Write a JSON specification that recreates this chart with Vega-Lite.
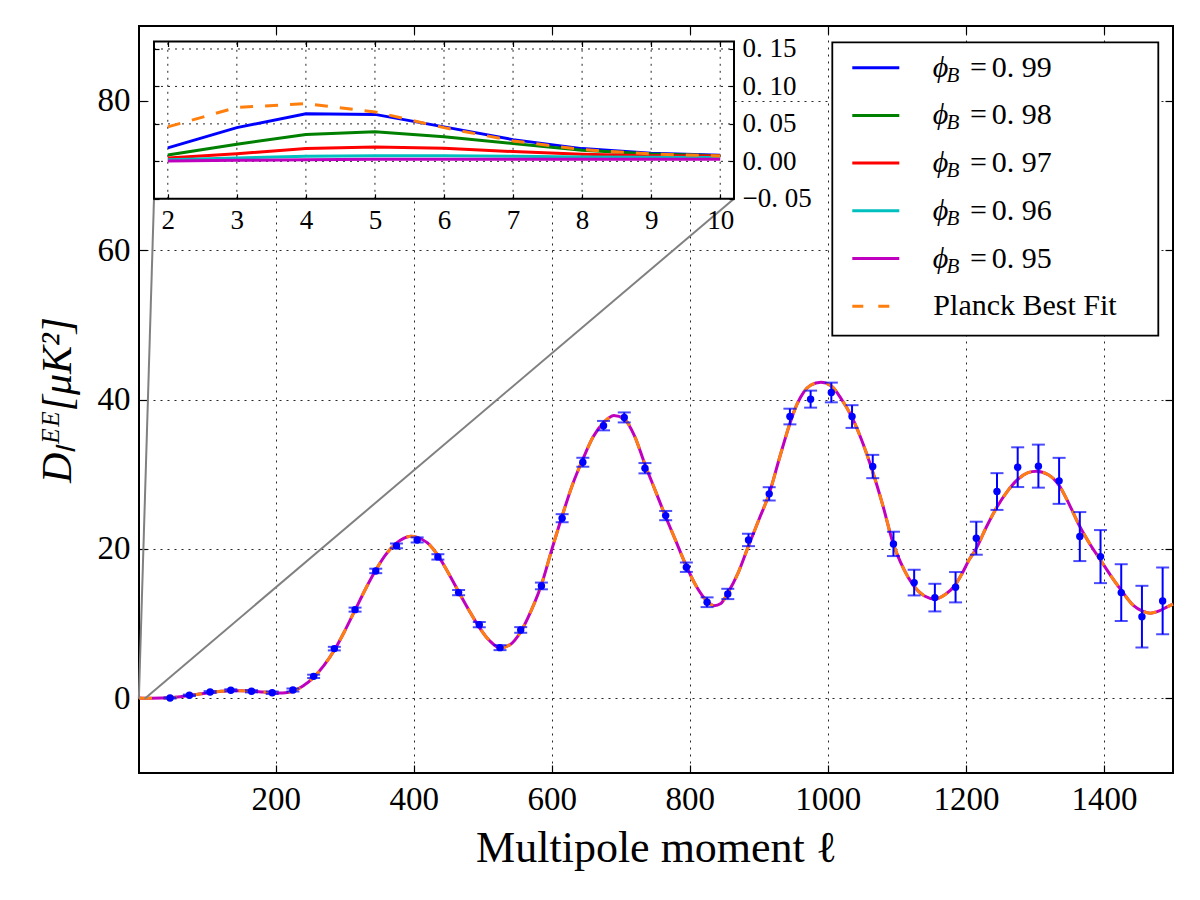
{
  "$schema": "https://vega.github.io/schema/vega-lite/v6.json",
  "width": 1034,
  "height": 747,
  "autosize": {"type": "none"},
  "padding": {"left": 139, "top": 26, "right": 27, "bottom": 127},
  "background": "white",
  "config": {
    "view": {"stroke": "black", "strokeWidth": 2},
    "font": "Liberation Serif",
    "axis": {
      "labelFont": "Liberation Serif",
      "titleFont": "Liberation Serif",
      "labelColor": "black",
      "titleColor": "black",
      "titleFontWeight": "normal",
      "tickColor": "black",
      "tickWidth": 1.2,
      "domain": false,
      "labelFlush": false,
      "labelOverlap": false,
      "gridColor": "black",
      "gridDash": [2, 5],
      "gridWidth": 1,
      "gridOpacity": 0.85
    },
    "text": {"font": "Liberation Serif", "color": "black"}
  },
  "datasets": {
    "theory": [
      {"l": 2, "D": 0.046}, {"l": 10, "D": 0.007}, {"l": 20, "D": 0.01}, {"l": 35, "D": 0.03},
      {"l": 48, "D": 0.07}, {"l": 62, "D": 0.2}, {"l": 77, "D": 0.4}, {"l": 92, "D": 0.6},
      {"l": 106, "D": 0.78}, {"l": 121, "D": 0.94}, {"l": 136, "D": 1.03}, {"l": 151, "D": 1.02},
      {"l": 166, "D": 0.95}, {"l": 181, "D": 0.85}, {"l": 196, "D": 0.75}, {"l": 210, "D": 0.72},
      {"l": 225, "D": 0.95}, {"l": 239, "D": 1.6}, {"l": 255, "D": 2.8}, {"l": 270, "D": 4.4},
      {"l": 286, "D": 6.6}, {"l": 300, "D": 9.0}, {"l": 315, "D": 11.8}, {"l": 330, "D": 14.6},
      {"l": 344, "D": 17.0}, {"l": 360, "D": 19.3}, {"l": 374, "D": 20.7}, {"l": 386, "D": 21.45},
      {"l": 396, "D": 21.7}, {"l": 405, "D": 21.55}, {"l": 420, "D": 20.8}, {"l": 436, "D": 19.0},
      {"l": 450, "D": 16.8}, {"l": 466, "D": 14.1}, {"l": 480, "D": 11.8}, {"l": 495, "D": 9.5},
      {"l": 510, "D": 7.7}, {"l": 525, "D": 6.75}, {"l": 540, "D": 7.2}, {"l": 555, "D": 8.9},
      {"l": 570, "D": 11.7}, {"l": 585, "D": 15.2}, {"l": 600, "D": 19.9}, {"l": 615, "D": 24.4},
      {"l": 630, "D": 28.6}, {"l": 645, "D": 32.0}, {"l": 660, "D": 35.0}, {"l": 675, "D": 36.9},
      {"l": 690, "D": 37.85}, {"l": 705, "D": 37.4}, {"l": 720, "D": 35.1}, {"l": 735, "D": 31.3},
      {"l": 750, "D": 27.8}, {"l": 765, "D": 24.3}, {"l": 780, "D": 21.0}, {"l": 794, "D": 17.9},
      {"l": 810, "D": 14.9}, {"l": 824, "D": 13.1}, {"l": 835, "D": 12.4}, {"l": 845, "D": 12.7},
      {"l": 855, "D": 14.1}, {"l": 870, "D": 16.8}, {"l": 885, "D": 20.4}, {"l": 900, "D": 23.9},
      {"l": 915, "D": 27.4}, {"l": 930, "D": 32.2}, {"l": 945, "D": 36.8}, {"l": 955, "D": 39.3},
      {"l": 965, "D": 41.0}, {"l": 975, "D": 41.9}, {"l": 990, "D": 42.3}, {"l": 1005, "D": 41.8},
      {"l": 1020, "D": 40.0}, {"l": 1035, "D": 37.6}, {"l": 1050, "D": 34.3}, {"l": 1064, "D": 30.6},
      {"l": 1080, "D": 25.7}, {"l": 1094, "D": 20.9}, {"l": 1110, "D": 17.3}, {"l": 1124, "D": 15.1},
      {"l": 1140, "D": 13.7}, {"l": 1155, "D": 13.3}, {"l": 1170, "D": 13.9}, {"l": 1184, "D": 15.1},
      {"l": 1195, "D": 16.8}, {"l": 1205, "D": 18.6}, {"l": 1214, "D": 19.9}, {"l": 1230, "D": 23.0},
      {"l": 1245, "D": 25.6}, {"l": 1260, "D": 27.7}, {"l": 1275, "D": 29.3}, {"l": 1290, "D": 30.2},
      {"l": 1302, "D": 30.4}, {"l": 1320, "D": 29.9}, {"l": 1335, "D": 28.5}, {"l": 1350, "D": 25.9},
      {"l": 1365, "D": 23.0}, {"l": 1380, "D": 20.6}, {"l": 1395, "D": 18.5}, {"l": 1410, "D": 16.4},
      {"l": 1424, "D": 14.6}, {"l": 1443, "D": 12.4}, {"l": 1455, "D": 11.7}, {"l": 1467, "D": 11.4},
      {"l": 1480, "D": 11.7}, {"l": 1491, "D": 12.2}, {"l": 1500, "D": 12.6}
    ],
    "ee": [
      {"l": 47, "D": 0.05, "err": 0.08}, {"l": 75, "D": 0.4, "err": 0.1},
      {"l": 105, "D": 0.84, "err": 0.12}, {"l": 135, "D": 1.07, "err": 0.14},
      {"l": 165, "D": 0.94, "err": 0.15}, {"l": 195, "D": 0.75, "err": 0.17},
      {"l": 225, "D": 1.11, "err": 0.2}, {"l": 255, "D": 2.94, "err": 0.22},
      {"l": 285, "D": 6.65, "err": 0.24}, {"l": 315, "D": 11.87, "err": 0.27},
      {"l": 345, "D": 17.05, "err": 0.3}, {"l": 375, "D": 20.4, "err": 0.32},
      {"l": 405, "D": 21.2, "err": 0.34}, {"l": 435, "D": 18.93, "err": 0.36},
      {"l": 465, "D": 14.15, "err": 0.35}, {"l": 495, "D": 9.86, "err": 0.35},
      {"l": 525, "D": 6.78, "err": 0.33}, {"l": 555, "D": 9.15, "err": 0.38},
      {"l": 585, "D": 15.04, "err": 0.45}, {"l": 615, "D": 24.11, "err": 0.54},
      {"l": 645, "D": 31.6, "err": 0.6}, {"l": 675, "D": 36.5, "err": 0.63},
      {"l": 705, "D": 37.6, "err": 0.67}, {"l": 735, "D": 30.8, "err": 0.69},
      {"l": 765, "D": 24.46, "err": 0.62}, {"l": 795, "D": 17.55, "err": 0.63},
      {"l": 825, "D": 12.86, "err": 0.65}, {"l": 855, "D": 13.97, "err": 0.69},
      {"l": 885, "D": 21.2, "err": 0.83}, {"l": 915, "D": 27.37, "err": 0.89},
      {"l": 945, "D": 37.72, "err": 1.05}, {"l": 975, "D": 40.05, "err": 1.14},
      {"l": 1005, "D": 40.94, "err": 1.32}, {"l": 1035, "D": 37.72, "err": 1.52},
      {"l": 1065, "D": 31.03, "err": 1.56}, {"l": 1095, "D": 20.67, "err": 1.63},
      {"l": 1125, "D": 15.49, "err": 1.72}, {"l": 1155, "D": 13.48, "err": 1.85},
      {"l": 1185, "D": 14.87, "err": 2.03}, {"l": 1215, "D": 21.43, "err": 2.21},
      {"l": 1245, "D": 27.68, "err": 2.46}, {"l": 1275, "D": 30.94, "err": 2.66},
      {"l": 1305, "D": 31.08, "err": 2.88}, {"l": 1335, "D": 29.11, "err": 3.08},
      {"l": 1365, "D": 21.65, "err": 3.28}, {"l": 1395, "D": 18.97, "err": 3.55},
      {"l": 1425, "D": 14.15, "err": 3.8}, {"l": 1455, "D": 10.93, "err": 4.13},
      {"l": 1485, "D": 13.03, "err": 4.47}
    ],
    "lowl": [
      {"series": "0.99", "l": 2, "v": 0.018}, {"series": "0.99", "l": 3, "v": 0.045}, {"series": "0.99", "l": 4, "v": 0.0636},
      {"series": "0.99", "l": 5, "v": 0.0627}, {"series": "0.99", "l": 6, "v": 0.046}, {"series": "0.99", "l": 7, "v": 0.029},
      {"series": "0.99", "l": 8, "v": 0.017}, {"series": "0.99", "l": 9, "v": 0.0107}, {"series": "0.99", "l": 10, "v": 0.008},
      {"series": "0.98", "l": 2, "v": 0.0085}, {"series": "0.98", "l": 3, "v": 0.0228}, {"series": "0.98", "l": 4, "v": 0.0358},
      {"series": "0.98", "l": 5, "v": 0.0394}, {"series": "0.98", "l": 6, "v": 0.0327}, {"series": "0.98", "l": 7, "v": 0.0237},
      {"series": "0.98", "l": 8, "v": 0.0148}, {"series": "0.98", "l": 9, "v": 0.0098}, {"series": "0.98", "l": 10, "v": 0.0076},
      {"series": "0.97", "l": 2, "v": 0.0045}, {"series": "0.97", "l": 3, "v": 0.0103}, {"series": "0.97", "l": 4, "v": 0.017},
      {"series": "0.97", "l": 5, "v": 0.0192}, {"series": "0.97", "l": 6, "v": 0.0175}, {"series": "0.97", "l": 7, "v": 0.013},
      {"series": "0.97", "l": 8, "v": 0.0094}, {"series": "0.97", "l": 9, "v": 0.0076}, {"series": "0.97", "l": 10, "v": 0.0072},
      {"series": "0.96", "l": 2, "v": 0.0022}, {"series": "0.96", "l": 3, "v": 0.0045}, {"series": "0.96", "l": 4, "v": 0.0067},
      {"series": "0.96", "l": 5, "v": 0.0076}, {"series": "0.96", "l": 6, "v": 0.0076}, {"series": "0.96", "l": 7, "v": 0.0067},
      {"series": "0.96", "l": 8, "v": 0.0058}, {"series": "0.96", "l": 9, "v": 0.0054}, {"series": "0.96", "l": 10, "v": 0.005},
      {"series": "0.95", "l": 2, "v": 0.0004}, {"series": "0.95", "l": 3, "v": 0.0013}, {"series": "0.95", "l": 4, "v": 0.0022},
      {"series": "0.95", "l": 5, "v": 0.0027}, {"series": "0.95", "l": 6, "v": 0.0027}, {"series": "0.95", "l": 7, "v": 0.0027},
      {"series": "0.95", "l": 8, "v": 0.0027}, {"series": "0.95", "l": 9, "v": 0.0027}, {"series": "0.95", "l": 10, "v": 0.0027},
      {"series": "Planck", "l": 2, "v": 0.046}, {"series": "Planck", "l": 3, "v": 0.072}, {"series": "Planck", "l": 4, "v": 0.077},
      {"series": "Planck", "l": 5, "v": 0.066}, {"series": "Planck", "l": 6, "v": 0.045}, {"series": "Planck", "l": 7, "v": 0.0273},
      {"series": "Planck", "l": 8, "v": 0.0157}, {"series": "Planck", "l": 9, "v": 0.0098}, {"series": "Planck", "l": 10, "v": 0.0072}
    ],
    "legend": [
      {"order": 0, "series": "0.99", "label": "0. 99"},
      {"order": 1, "series": "0.98", "label": "0. 98"},
      {"order": 2, "series": "0.97", "label": "0. 97"},
      {"order": 3, "series": "0.96", "label": "0. 96"},
      {"order": 4, "series": "0.95", "label": "0. 95"},
      {"order": 5, "series": "Planck", "label": "Planck Best Fit"}
    ],
    "connectors": [
      {"corner": "lower left", "l": 1.8, "D": -0.05},
      {"corner": "lower left", "l": 23.73, "D": 66.87},
      {"corner": "lower right", "l": 10.2, "D": -0.05},
      {"corner": "lower right", "l": 864.0, "D": 66.87}
    ]
  },
  "resolve": {"scale": {"x": "independent", "y": "independent"}},
  "layer": [
    {
      "layer": [
        {
          "data": {"name": "theory"},
          "mark": {"type": "line", "color": "#bf00bf", "strokeWidth": 3, "interpolate": "monotone"},
          "encoding": {
            "x": {
              "field": "l", "type": "quantitative", "title": "Multipole moment ℓ",
              "scale": {"domain": [2, 1500], "nice": false, "zero": false},
              "axis": {
                "orient": "bottom", "values": [200, 400, 600, 800, 1000, 1200, 1400], "format": "d",
                "grid": true, "tickSize": -8, "labelFontSize": 33, "labelPadding": 18,
                "titleFontSize": 44, "titlePadding": 10
              }
            },
            "y": {
              "field": "D", "type": "quantitative", "title": "Dₗᴱᴱ[μK²]",
              "scale": {"domain": [-10, 90], "nice": false, "zero": false},
              "axis": {
                "orient": "left", "values": [0, 20, 40, 60, 80],
                "grid": true, "tickSize": -8, "labelFontSize": 33, "labelPadding": 17,
                "titleFontSize": 42, "titleFontStyle": "italic", "titlePadding": 18
              }
            }
          }
        },
        {
          "data": {"name": "theory"},
          "mark": {"type": "line", "color": "#ff7f0e", "strokeWidth": 3, "strokeDash": [13, 12], "interpolate": "monotone"},
          "encoding": {
            "x": {"field": "l", "type": "quantitative", "title": "Multipole moment ℓ"},
            "y": {"field": "D", "type": "quantitative", "title": "Dₗᴱᴱ[μK²]"}
          }
        },
        {
          "data": {"name": "connectors"},
          "mark": {"type": "line", "color": "#808080", "strokeWidth": 2},
          "encoding": {
            "x": {"field": "l", "type": "quantitative", "title": "Multipole moment ℓ"},
            "y": {"field": "D", "type": "quantitative", "title": "Dₗᴱᴱ[μK²]"},
            "detail": {"field": "corner", "type": "nominal"}
          }
        },
        {
          "data": {"name": "ee"},
          "mark": {"type": "errorbar", "color": "#0000ff", "thickness": 2, "ticks": {"size": 13, "thickness": 2}},
          "encoding": {
            "x": {"field": "l", "type": "quantitative", "title": "Multipole moment ℓ"},
            "y": {"field": "D", "type": "quantitative", "title": "Dₗᴱᴱ[μK²]"},
            "yError": {"field": "err"}
          }
        },
        {
          "data": {"name": "ee"},
          "mark": {"type": "circle", "color": "#0000ff", "size": 55, "opacity": 1},
          "encoding": {
            "x": {"field": "l", "type": "quantitative", "title": "Multipole moment ℓ"},
            "y": {"field": "D", "type": "quantitative", "title": "Dₗᴱᴱ[μK²]"}
          }
        }
      ]
    },
    {
      "data": {"name": "ee"},
      "mark": {"type": "point", "opacity": 0},
      "encoding": {
        "x": {
          "field": "l", "type": "quantitative",
          "scale": {"domain": [2, 1500], "nice": false, "zero": false},
          "axis": {"orient": "top", "values": [200, 400, 600, 800, 1000, 1200, 1400], "labels": false, "grid": false, "tickSize": -8, "title": null}
        },
        "y": {
          "field": "D", "type": "quantitative",
          "scale": {"domain": [-10, 90], "nice": false, "zero": false},
          "axis": {"orient": "right", "values": [0, 20, 40, 60, 80], "labels": false, "grid": false, "tickSize": -8, "title": null}
        }
      }
    },
    {
      "layer": [
        {
          "data": {"values": [{}]},
          "mark": {"type": "rect", "fill": "white", "strokeWidth": 0},
          "encoding": {
            "x": {
              "datum": 1.8, "type": "quantitative",
              "scale": {"domain": [1.8, 10.2], "range": [15, 595], "nice": false, "zero": false},
              "axis": {
                "orient": "bottom", "offset": -574.2, "values": [2, 3, 4, 5, 6, 7, 8, 9, 10], "format": "d",
                "grid": false, "tickSize": -5, "labelFontSize": 27, "labelPadding": 14, "title": null, "zindex": 1
              }
            },
            "x2": {"datum": 10.2},
            "y": {
              "datum": -0.05, "type": "quantitative",
              "scale": {"domain": [-0.05, 0.16], "range": [172.8, 15.5], "nice": false, "zero": false},
              "axis": {
                "orient": "right", "offset": -439, "values": [-0.05, 0, 0.05, 0.1, 0.15],
                "labelExpr": "replace(format(datum.value, '.2f'), '.', '. ')",
                "grid": false, "tickSize": -5, "labelFontSize": 27, "labelPadding": 13, "title": null, "zindex": 1
              }
            },
            "y2": {"datum": 0.16}
          }
        },
        {
          "data": {"name": "lowl"},
          "transform": [{"filter": "datum.series === 'Planck'"}],
          "mark": {"type": "rule", "color": "black", "strokeWidth": 1, "strokeDash": [2, 5], "opacity": 0.85},
          "encoding": {
            "x": {"field": "l", "type": "quantitative"},
            "y": {"datum": -0.05, "type": "quantitative"},
            "y2": {"datum": 0.16}
          }
        },
        {
          "data": {"values": [{}]},
          "mark": {"type": "rule", "color": "black", "strokeWidth": 1, "strokeDash": [2, 5], "opacity": 0.85},
          "encoding": {"x": {"datum": 1.8, "type": "quantitative"}, "x2": {"datum": 10.2}, "y": {"datum": 0, "type": "quantitative"}}
        },
        {
          "data": {"values": [{}]},
          "mark": {"type": "rule", "color": "black", "strokeWidth": 1, "strokeDash": [2, 5], "opacity": 0.85},
          "encoding": {"x": {"datum": 1.8, "type": "quantitative"}, "x2": {"datum": 10.2}, "y": {"datum": 0.05, "type": "quantitative"}}
        },
        {
          "data": {"values": [{}]},
          "mark": {"type": "rule", "color": "black", "strokeWidth": 1, "strokeDash": [2, 5], "opacity": 0.85},
          "encoding": {"x": {"datum": 1.8, "type": "quantitative"}, "x2": {"datum": 10.2}, "y": {"datum": 0.1, "type": "quantitative"}}
        },
        {
          "data": {"values": [{}]},
          "mark": {"type": "rule", "color": "black", "strokeWidth": 1, "strokeDash": [2, 5], "opacity": 0.85},
          "encoding": {"x": {"datum": 1.8, "type": "quantitative"}, "x2": {"datum": 10.2}, "y": {"datum": 0.15, "type": "quantitative"}}
        },
        {
          "data": {"name": "lowl"},
          "transform": [{"filter": "datum.series !== 'Planck'"}],
          "mark": {"type": "line", "strokeWidth": 3},
          "encoding": {
            "x": {"field": "l", "type": "quantitative"},
            "y": {"field": "v", "type": "quantitative"},
            "color": {
              "field": "series", "type": "nominal",
              "scale": {"domain": ["0.99", "0.98", "0.97", "0.96", "0.95", "Planck"], "range": ["#0000ff", "#008000", "#ff0000", "#00bfbf", "#bf00bf", "#ff7f0e"]},
              "legend": null
            }
          }
        },
        {
          "data": {"name": "lowl"},
          "transform": [{"filter": "datum.series === 'Planck'"}],
          "mark": {"type": "line", "strokeWidth": 3, "strokeDash": [13, 12]},
          "encoding": {
            "x": {"field": "l", "type": "quantitative"},
            "y": {"field": "v", "type": "quantitative"},
            "color": {"field": "series", "type": "nominal", "legend": null}
          }
        }
      ]
    },
    {
      "data": {"values": [{}]},
      "mark": {"type": "rect", "fill": null, "fillOpacity": 0, "stroke": "black", "strokeWidth": 2},
      "encoding": {
        "x": {
          "datum": 1.8, "type": "quantitative",
          "scale": {"domain": [1.8, 10.2], "range": [15, 595], "nice": false, "zero": false},
          "axis": {"orient": "top", "offset": -15.5, "values": [2, 3, 4, 5, 6, 7, 8, 9, 10], "labels": false, "grid": false, "tickSize": -5, "title": null, "zindex": 1}
        },
        "x2": {"datum": 10.2},
        "y": {
          "datum": -0.05, "type": "quantitative",
          "scale": {"domain": [-0.05, 0.16], "range": [172.8, 15.5], "nice": false, "zero": false},
          "axis": {"orient": "left", "offset": -15, "values": [-0.05, 0, 0.05, 0.1, 0.15], "labels": false, "grid": false, "tickSize": -5, "title": null, "zindex": 1}
        },
        "y2": {"datum": 0.16}
      }
    },
    {
      "layer": [
        {
          "data": {"values": [{}]},
          "mark": {"type": "rect", "fill": "white", "stroke": "black", "strokeWidth": 1.8},
          "encoding": {
            "x": {"datum": 0, "type": "quantitative", "scale": {"domain": [0, 1], "range": [693.3, 1019.3], "nice": false, "zero": false}, "axis": null},
            "x2": {"datum": 1},
            "y": {"datum": -0.532, "type": "quantitative", "scale": {"domain": [-0.532, 5.618], "range": [16.3, 309.7], "nice": false, "zero": false}, "axis": null},
            "y2": {"datum": 5.618}
          }
        },
        {
          "data": {"name": "legend"},
          "transform": [{"filter": "datum.series !== 'Planck'"}],
          "mark": {"type": "rule", "strokeWidth": 3},
          "encoding": {
            "x": {"datum": 0.0613, "type": "quantitative"},
            "x2": {"datum": 0.2055},
            "y": {"field": "order", "type": "quantitative"},
            "color": {"field": "series", "type": "nominal", "legend": null}
          }
        },
        {
          "data": {"name": "legend"},
          "transform": [{"filter": "datum.series === 'Planck'"}],
          "mark": {"type": "rule", "strokeWidth": 3, "strokeDash": [11, 15]},
          "encoding": {
            "x": {"datum": 0.0613, "type": "quantitative"},
            "x2": {"datum": 0.2055},
            "y": {"field": "order", "type": "quantitative"},
            "color": {"field": "series", "type": "nominal", "legend": null}
          }
        },
        {
          "data": {"name": "legend"},
          "transform": [{"filter": "datum.series !== 'Planck'"}],
          "mark": {"type": "text", "text": "ϕ", "fontStyle": "italic", "fontSize": 30, "align": "left", "baseline": "alphabetic", "dy": 9},
          "encoding": {
            "x": {"datum": 0.308, "type": "quantitative"},
            "y": {"field": "order", "type": "quantitative"}
          }
        },
        {
          "data": {"name": "legend"},
          "transform": [{"filter": "datum.series !== 'Planck'"}],
          "mark": {"type": "text", "text": "B", "fontStyle": "italic", "fontSize": 21, "align": "left", "baseline": "alphabetic", "dy": 14},
          "encoding": {
            "x": {"datum": 0.35, "type": "quantitative"},
            "y": {"field": "order", "type": "quantitative"}
          }
        },
        {
          "data": {"name": "legend"},
          "transform": [{"filter": "datum.series !== 'Planck'"}],
          "mark": {"type": "text", "text": "=", "fontSize": 30, "align": "left", "baseline": "alphabetic", "dy": 9},
          "encoding": {
            "x": {"datum": 0.4224, "type": "quantitative"},
            "y": {"field": "order", "type": "quantitative"}
          }
        },
        {
          "data": {"name": "legend"},
          "transform": [{"filter": "datum.series !== 'Planck'"}],
          "mark": {"type": "text", "fontSize": 30, "align": "left", "baseline": "alphabetic", "dy": 9},
          "encoding": {
            "x": {"datum": 0.489, "type": "quantitative"},
            "y": {"field": "order", "type": "quantitative"},
            "text": {"field": "label"}
          }
        },
        {
          "data": {"name": "legend"},
          "transform": [{"filter": "datum.series === 'Planck'"}],
          "mark": {"type": "text", "fontSize": 30, "align": "left", "baseline": "alphabetic", "dy": 9},
          "encoding": {
            "x": {"datum": 0.31, "type": "quantitative"},
            "y": {"field": "order", "type": "quantitative"},
            "text": {"field": "label"}
          }
        }
      ]
    }
  ]
}
